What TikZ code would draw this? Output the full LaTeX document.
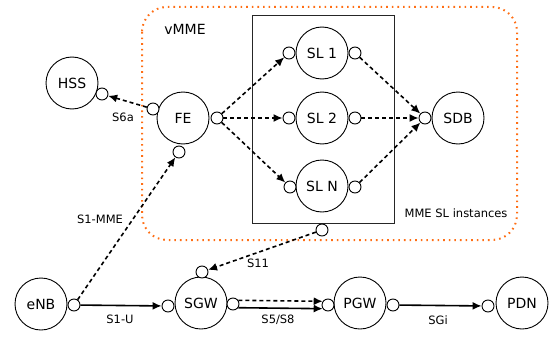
\documentclass[tikz,border=0pt]{standalone}
\usepackage{fontspec}
\setmainfont{DejaVu Sans}
\usetikzlibrary{arrows.meta}
\definecolor{vorange}{RGB}{255,110,20}
\begin{document}
\begin{tikzpicture}[x=1pt,y=-1pt,
  ent/.style={circle,draw,line width=0.9pt,minimum size=52pt,inner sep=0pt,font=\fontsize{14}{16}\selectfont},
  port/.style={circle,draw,fill=white,line width=0.9pt,minimum size=12pt,inner sep=0pt},
  sig/.style={line width=1.6pt,dash pattern=on 4pt off 3pt,-{Latex[length=9pt,width=8pt]}},
  dat/.style={line width=1.6pt,-{Latex[length=9pt,width=8pt]}},
  lbl/.style={font=\fontsize{11.5}{13}\selectfont}]
\useasboundingbox (0,0) rectangle (553,337);
% vMME area
\draw[vorange,line width=2pt,dash pattern=on 1.6pt off 4pt,rounded corners=25pt] (142,7) rectangle (517,240);
\node[font=\fontsize{14}{16}\selectfont] (vmme) at (185,29) {vMME};
\draw[black!85,line width=0.8pt] (252,15) rectangle (394,223);
\node[lbl,anchor=east] (slinst) at (511,213) {MME SL instances};
% entities
\node[ent] (hss) at (72,83) {HSS};
\node[ent] (fe) at (183,118) {FE};
\node[ent] (sl1) at (322,53) {SL 1};
\node[ent] (sl2) at (322,118) {SL 2};
\node[ent] (sln) at (322,186) {SL N};
\node[ent] (sdb) at (458,118) {SDB};
\node[ent] (enb) at (41,304) {eNB};
\node[ent] (sgw) at (201,303) {SGW};
\node[ent] (pgw) at (360,303) {PGW};
\node[ent] (pdn) at (522,303) {PDN};
% ports
\node[port] (hssp) at (102,94) {};
\node[port] (fel) at (153,109) {};
\node[port] (fer) at (217,118) {};
\node[port] (feb) at (179,152) {};
\node[port] (sl1l) at (289,53) {};
\node[port] (sl1r) at (355,53) {};
\node[port] (sl2l) at (289,118) {};
\node[port] (sl2r) at (355,118) {};
\node[port] (slnl) at (290,187) {};
\node[port] (slnr) at (355,187) {};
\node[port] (slnb) at (322,230) {};
\node[port] (sdbp) at (425,118) {};
\node[port] (enbp) at (74,305) {};
\node[port] (sgwl) at (168,306) {};
\node[port] (sgwr) at (233,304) {};
\node[port] (sgwt) at (202,272) {};
\node[port] (pgwl) at (328,305) {};
\node[port] (pgwr) at (393,305) {};
\node[port] (pdnp) at (488,306) {};
% connectors
\draw[sig] (fel) -- (hssp);
\node[lbl] (s6a) at (123,117) {S6a};
\draw[sig] (fer) -- (sl1l);
\draw[sig] (fer) -- (sl2l);
\draw[sig] (fer) -- (slnl);
\draw[sig] (sl1r) -- (sdbp);
\draw[sig] (sl2r) -- (sdbp);
\draw[sig] (slnr) -- (sdbp);
\draw[sig] (enbp) -- (feb);
\node[lbl] (s1mme) at (100,219) {S1-MME};
\draw[sig] (slnb) -- (sgwt);
\node[lbl] (s11) at (258,263) {S11};
\draw[dat] (enbp) -- (sgwl);
\node[lbl] (s1u) at (120,319) {S1-U};
\draw[sig] (sgwr.35) -- (pgwl.145);
\draw[dat] (sgwr.-35) -- (pgwl.-145);
\node[lbl] (s5) at (278,320) {S5/S8};
\draw[dat] (pgwr) -- (pdnp);
\node[lbl] (sgi) at (438,320) {SGi};
\end{tikzpicture}
\end{document}
